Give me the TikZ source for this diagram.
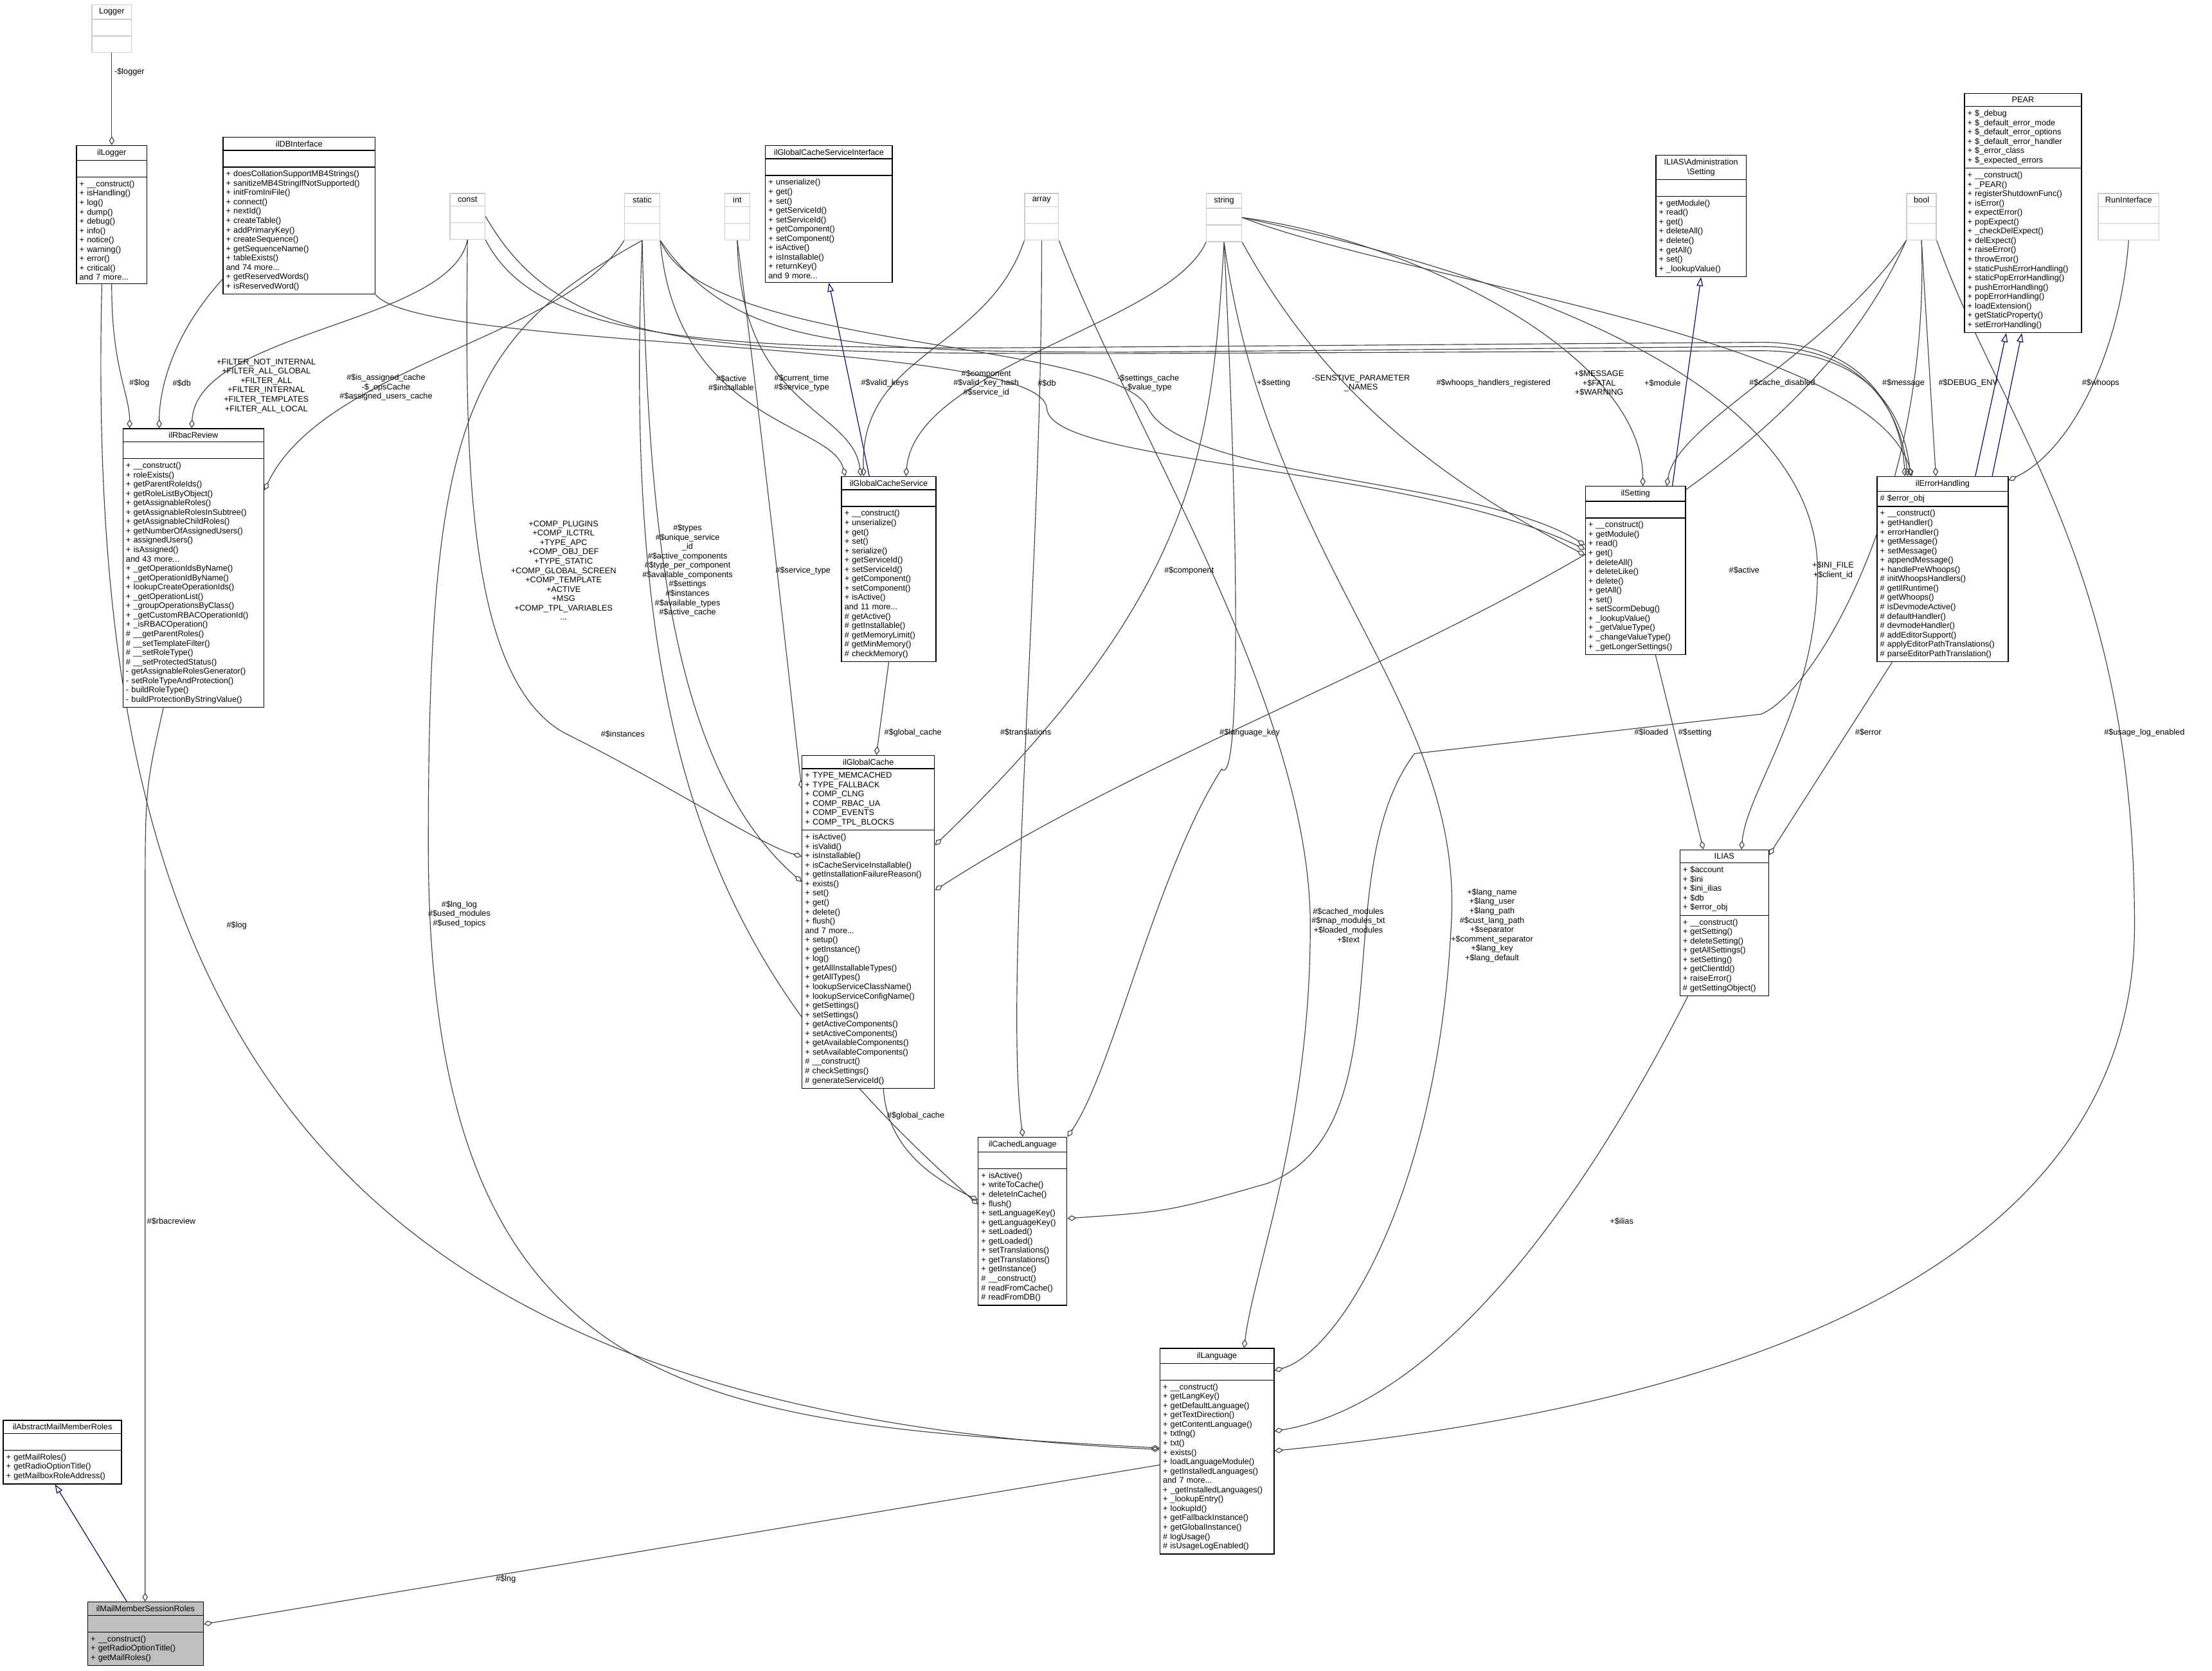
\documentclass[tikz,border=0pt]{standalone}
\usepackage{fontspec}
\setmainfont{Liberation Sans}
\usetikzlibrary{calc,shapes.multipart,arrows.meta,backgrounds}
% one class box: [style] name, left, top, width (px), title, attributes, methods
\newcommand\classbox[8][]{%
  \pgfmathsetlengthmacro\boxw{#5*0.02cm-2.4pt}%
  \node[umlclass,#1,text width=\boxw] (#2) at (#3,#4)
    {\centering #6\par\nodepart{two}#7\nodepart{three}#8};}
\begin{document}
\begin{tikzpicture}[x=0.02cm,y=-0.02cm,
  font=\fontsize{3.3}{3.78}\selectfont,
  umlclass/.style={draw,line width=0.35pt,fill=white,rectangle split,rectangle split parts=3,
    anchor=north west,inner xsep=1.2pt,inner ysep=1.3pt,align=left},
  typebox/.style={draw=gray!40},
  focus/.style={fill=gray!50},
  agg/.style={draw=black!75,line width=0.3pt,-{Diamond[open,length=3.6pt,width=2.2pt]}},
  inh/.style={draw=blue!40!black,line width=0.3pt,-{Triangle[open,length=3.6pt,width=2.6pt]}},
  lbl/.style={inner sep=0pt,align=center}]
\useasboundingbox (0,0) rectangle (1570,1186);

% top row
\classbox[typebox]{Logger}{65}{3}{28}{Logger}{\strut}{\strut}
\classbox{ilLogger}{54}{103}{50}{ilLogger}{\strut}{+ \_\_construct()\\+ isHandling()\\+ log()\\+ dump()\\+ debug()\\+ info()\\+ notice()\\+ warning()\\+ error()\\+ critical()\\and 7 more...}
\classbox{ilDBInterface}{158}{97}{108}{ilDBInterface}{\strut}{+ doesCollationSupportMB4Strings()\\+ sanitizeMB4StringIfNotSupported()\\+ initFromIniFile()\\+ connect()\\+ nextId()\\+ createTable()\\+ addPrimaryKey()\\+ createSequence()\\+ getSequenceName()\\+ tableExists()\\and 74 more...\\+ getReservedWords()\\+ isReservedWord()}
\classbox[typebox]{const}{319}{137}{25}{const}{\strut}{\strut}
\classbox[typebox]{static}{443}{137}{25}{static}{\strut}{\strut}
\classbox[typebox]{int}{514}{137}{18}{int}{\strut}{\strut}
\classbox{ilGCSInterface}{543}{103}{90}{ilGlobalCacheServiceInterface}{\strut}{+ unserialize()\\+ get()\\+ set()\\+ getServiceId()\\+ setServiceId()\\+ getComponent()\\+ setComponent()\\+ isActive()\\+ isInstallable()\\+ returnKey()\\and 9 more...}
\classbox[typebox]{array}{727}{137}{24}{array}{\strut}{\strut}
\classbox[typebox]{string}{856}{137}{25}{string}{\strut}{\strut}
\classbox{admSetting}{1175}{110}{64}{ILIAS\textbackslash Administration\\\textbackslash Setting}{\strut}{+ getModule()\\+ read()\\+ get()\\+ deleteAll()\\+ delete()\\+ getAll()\\+ set()\\+ \_lookupValue()}
\classbox[typebox]{bool}{1353}{137}{21}{bool}{\strut}{\strut}
\classbox{PEAR}{1394}{66}{83}{PEAR}{+ \$\_debug\\+ \$\_default\_error\_mode\\+ \$\_default\_error\_options\\+ \$\_default\_error\_handler\\+ \$\_error\_class\\+ \$\_expected\_errors}{+ \_\_construct()\\+ \_PEAR()\\+ registerShutdownFunc()\\+ isError()\\+ expectError()\\+ popExpect()\\+ \_checkDelExpect()\\+ delExpect()\\+ raiseError()\\+ throwError()\\+ staticPushErrorHandling()\\+ staticPopErrorHandling()\\+ pushErrorHandling()\\+ popErrorHandling()\\+ loadExtension()\\+ getStaticProperty()\\+ setErrorHandling()}
\classbox[typebox]{RunInterface}{1489}{137}{43}{RunInterface}{\strut}{\strut}

% middle row
\classbox{ilRbacReview}{87}{304}{100}{ilRbacReview}{\strut}{+ \_\_construct()\\+ roleExists()\\+ getParentRoleIds()\\+ getRoleListByObject()\\+ getAssignableRoles()\\+ getAssignableRolesInSubtree()\\+ getAssignableChildRoles()\\+ getNumberOfAssignedUsers()\\+ assignedUsers()\\+ isAssigned()\\and 43 more...\\+ \_getOperationIdsByName()\\+ \_getOperationIdByName()\\+ lookupCreateOperationIds()\\+ \_getOperationList()\\+ \_groupOperationsByClass()\\+ \_getCustomRBACOperationId()\\+ \_isRBACOperation()\\\# \_\_getParentRoles()\\\# \_\_setTemplateFilter()\\\# \_\_setRoleType()\\\# \_\_setProtectedStatus()\\- getAssignableRolesGenerator()\\- setRoleTypeAndProtection()\\- buildRoleType()\\- buildProtectionByStringValue()}
\classbox{ilGCService}{597}{338}{67}{ilGlobalCacheService}{\strut}{+ \_\_construct()\\+ unserialize()\\+ get()\\+ set()\\+ serialize()\\+ getServiceId()\\+ setServiceId()\\+ getComponent()\\+ setComponent()\\+ isActive()\\and 11 more...\\\# getActive()\\\# getInstallable()\\\# getMemoryLimit()\\\# getMinMemory()\\\# checkMemory()}
\classbox{ilSetting}{1125}{345}{71}{ilSetting}{\strut}{+ \_\_construct()\\+ getModule()\\+ read()\\+ get()\\+ deleteAll()\\+ deleteLike()\\+ delete()\\+ getAll()\\+ set()\\+ setScormDebug()\\+ \_lookupValue()\\+ \_getValueType()\\+ \_changeValueType()\\+ \_getLongerSettings()}
\classbox{ilErrorHandling}{1332}{338}{93}{ilErrorHandling}{\# \$error\_obj}{+ \_\_construct()\\+ getHandler()\\+ errorHandler()\\+ getMessage()\\+ setMessage()\\+ appendMessage()\\+ handlePreWhoops()\\\# initWhoopsHandlers()\\\# getIlRuntime()\\\# getWhoops()\\\# isDevmodeActive()\\\# defaultHandler()\\\# devmodeHandler()\\\# addEditorSupport()\\\# applyEditorPathTranslations()\\\# parseEditorPathTranslation()}
\classbox{ilGlobalCache}{569}{536}{94}{ilGlobalCache}{+ TYPE\_MEMCACHED\\+ TYPE\_FALLBACK\\+ COMP\_CLNG\\+ COMP\_RBAC\_UA\\+ COMP\_EVENTS\\+ COMP\_TPL\_BLOCKS}{+ isActive()\\+ isValid()\\+ isInstallable()\\+ isCacheServiceInstallable()\\+ getInstallationFailureReason()\\+ exists()\\+ set()\\+ get()\\+ delete()\\+ flush()\\and 7 more...\\+ setup()\\+ getInstance()\\+ log()\\+ getAllInstallableTypes()\\+ getAllTypes()\\+ lookupServiceClassName()\\+ lookupServiceConfigName()\\+ getSettings()\\+ setSettings()\\+ getActiveComponents()\\+ setActiveComponents()\\+ getAvailableComponents()\\+ setAvailableComponents()\\\# \_\_construct()\\\# checkSettings()\\\# generateServiceId()}
\classbox{ILIAS}{1192}{603}{63}{ILIAS}{+ \$account\\+ \$ini\\+ \$ini\_ilias\\+ \$db\\+ \$error\_obj}{+ \_\_construct()\\+ getSetting()\\+ deleteSetting()\\+ getAllSettings()\\+ setSetting()\\+ getClientId()\\+ raiseError()\\\# getSettingObject()}

% lower row
\classbox{ilCachedLanguage}{694}{807}{63}{ilCachedLanguage}{\strut}{+ isActive()\\+ writeToCache()\\+ deleteInCache()\\+ flush()\\+ setLanguageKey()\\+ getLanguageKey()\\+ setLoaded()\\+ getLoaded()\\+ setTranslations()\\+ getTranslations()\\+ getInstance()\\\# \_\_construct()\\\# readFromCache()\\\# readFromDB()}
\classbox{ilLanguage}{823}{957}{81}{ilLanguage}{\strut}{+ \_\_construct()\\+ getLangKey()\\+ getDefaultLanguage()\\+ getTextDirection()\\+ getContentLanguage()\\+ txtlng()\\+ txt()\\+ exists()\\+ loadLanguageModule()\\+ getInstalledLanguages()\\and 7 more...\\+ \_getInstalledLanguages()\\+ \_lookupEntry()\\+ lookupId()\\+ getFallbackInstance()\\+ getGlobalInstance()\\\# logUsage()\\\# isUsageLogEnabled()}
\classbox{ilAbstractMMR}{2}{1008}{84}{ilAbstractMailMemberRoles}{\strut}{+ getMailRoles()\\+ getRadioOptionTitle()\\+ getMailboxRoleAddress()}
\classbox[focus]{ilMailMSR}{62}{1137}{82}{ilMailMemberSessionRoles}{\strut}{+ \_\_construct()\\+ getRadioOptionTitle()\\+ getMailRoles()}

\begin{scope}[on background layer]
% left part
\draw[agg] (Logger.south) -- (ilLogger.north) node[lbl,right] at (81,51) {-\$logger};
\draw[agg] (ilLogger.south) .. controls (79,260) and (92,280) .. ($(ilRbacReview.north west)+(5,0)$);
\node[lbl] at (99,272) {\#\$log};
\draw[agg] ($(ilDBInterface.south west)+(0,-11)$) .. controls (120,240) and (113,280) .. ($(ilRbacReview.north west)+(26,0)$);
\node[lbl] at (129,272) {\#\$db};
\draw[agg] (const.south) .. controls (320,230) and (140,235) .. ($(ilRbacReview.north west)+(49,0)$);
\node[lbl] at (189,274) {+FILTER\_NOT\_INTERNAL\\+FILTER\_ALL\_GLOBAL\\+FILTER\_ALL\\+FILTER\_INTERNAL\\+FILTER\_TEMPLATES\\+FILTER\_ALL\_LOCAL};
\draw[agg] (static.south west) .. controls (400,240) and (230,260) .. ($(ilRbacReview.north east)+(0,44)$);
\node[lbl] at (274,275) {\#\$is\_assigned\_cache\\-\$\_opsCache\\\#\$assigned\_users\_cache};
\draw[agg] ($(ilLogger.south)+(-7,0)$) .. controls (60,700) and (200,1000) .. ($(ilLanguage.north west)+(0,72)$);
\node[lbl] at (168,657) {\#\$log};
\draw[agg] (static.south) .. controls (330,240) and (304,300) .. (304,600) .. controls (304,1000) and (500,1010) .. ($(ilLanguage.north west)+(0,71)$);
\node[lbl] at (326,649) {\#\$lng\_log\\\#\$used\_modules\\\#\$used\_topics};
\draw[agg] ($(ilRbacReview.south west)+(29,0)$) .. controls (103,560) .. (103,650) -- ($(ilMailMSR.north west)+(41,0)$);
\node[lbl,right] at (104,867) {\#\$rbacreview};
\draw[inh] ($(ilMailMSR.north west)+(28,0)$) -- ($(ilAbstractMMR.south west)+(37,0)$);
\draw[agg] ($(ilLanguage.north west)+(0,83)$) -- ($(ilMailMSR.north east)+(0,16)$);
\node[lbl] at (359,1121) {\#\$lng};

% global cache
\draw[agg] (int.south) .. controls (540,300) and (560,480) .. ($(ilGlobalCache.north west)+(0,24)$);
\node[lbl] at (570,405) {\#\$service\_type};
\draw[agg] (const.south) .. controls (330,320) and (330,480) .. (400,520) .. controls (480,560) and (540,600) .. ($(ilGlobalCache.north west)+(0,72)$);
\node[lbl] at (400,405) {+COMP\_PLUGINS\\+COMP\_ILCTRL\\+TYPE\_APC\\+COMP\_OBJ\_DEF\\+TYPE\_STATIC\\+COMP\_GLOBAL\_SCREEN\\+COMP\_TEMPLATE\\+ACTIVE\\+MSG\\+COMP\_TPL\_VARIABLES\\...};
\draw[agg] (static.south) .. controls (460,350) and (470,540) .. ($(ilGlobalCache.north west)+(0,90)$);
\node[lbl] at (488,405) {\#\$types\\\#\$unique\_service\\\_id\\\#\$active\_components\\\#\$type\_per\_component\\\#\$available\_components\\\#\$settings\\\#\$instances\\\#\$available\_types\\\#\$active\_cache};
\draw[agg] (static.south east) .. controls (480,300) and (590,300) .. ($(ilGCService.north west)+(3,0)$);
\node[lbl] at (519,272) {\#\$active\\\#\$installable};
\draw[agg] (int.south) .. controls (525,290) and (605,290) .. ($(ilGCService.north west)+(14,0)$);
\node[lbl] at (569,272) {\#\$current\_time\\\#\$service\_type};
\draw[inh] ($(ilGCService.north west)+(20,0)$) -- (ilGCSInterface.south);
\draw[agg] (array.south west) .. controls (700,250) and (610,250) .. ($(ilGCService.north west)+(16,0)$);
\node[lbl] at (628,272) {\#\$valid\_keys};
\draw[agg] (string.south west) .. controls (830,230) and (650,260) .. ($(ilGCService.north west)+(46,0)$);
\node[lbl] at (700,272) {\#\$component\\\#\$valid\_key\_hash\\\#\$service\_id};
\draw[agg] (ilGCService.south) -- ($(ilGlobalCache.north west)+(53,0)$);
\node[lbl] at (648,520) {\#\$global\_cache};
\draw[agg] (string.south) .. controls (860,320) and (850,420) .. ($(ilGlobalCache.north east)+(0,64)$);
\node[lbl] at (844,405) {\#\$component};
\draw[agg] (bool.south west) .. controls (1250,400) and (900,480) .. ($(ilGlobalCache.north east)+(0,96)$);
\node[lbl] at (1238,405) {\#\$active};

% cached language and language
\draw[agg] ($(ilGlobalCache.south west)+(58,0)$) .. controls (630,820) and (670,840) .. ($(ilCachedLanguage.north west)+(0,45)$);
\node[lbl] at (650,792) {\#\$global\_cache};
\draw[agg] (static.south) .. controls (440,560) and (520,700) .. ($(ilCachedLanguage.north west)+(0,48)$);
\node[lbl] at (442,521) {\#\$instances};
\draw[agg] (array.south) .. controls (740,400) and (712,700) .. ($(ilCachedLanguage.north west)+(32,0)$);
\node[lbl] at (728,520) {\#\$translations};
\draw[agg] (string.south) .. controls (880,400) and (880,560) .. (867,546) .. controls (820,620) and (790,760) .. (ilCachedLanguage.north east);
\node[lbl] at (887,520) {\#\$language\_key};
\draw[agg] (bool.south) .. controls (1370,350) and (1290,490) .. (1250,507) -- (1004,535) .. controls (940,620) and (1000,800) .. (900,840) .. controls (830,860) .. ($(ilCachedLanguage.north east)+(0,58)$);
\node[lbl] at (1172,520) {\#\$loaded};
\draw[agg] (array.south east) .. controls (800,300) and (930,500) .. (930,657) .. controls (930,800) and (890,900) .. ($(ilLanguage.north west)+(60,0)$);
\node[lbl] at (957,657) {\#\$cached\_modules\\\#\$map\_modules\_txt\\+\$loaded\_modules\\+\$text};
\draw[agg] (string.south) .. controls (900,400) and (1040,500) .. (1030,657) .. controls (1020,850) and (950,960) .. ($(ilLanguage.north east)+(0,16)$);
\node[lbl] at (1059,657) {+\$lang\_name\\+\$lang\_user\\+\$lang\_path\\\#\$cust\_lang\_path\\+\$separator\\+\$comment\_separator\\+\$lang\_key\\+\$lang\_default};
\draw[agg] ($(ILIAS.south west)+(6,0)$) .. controls (1100,900) and (1000,1000) .. ($(ilLanguage.north east)+(0,59)$);
\node[lbl] at (1151,867) {+\$ilias};
\draw[agg] (bool.south east) .. controls (1420,300) and (1515,400) .. (1515,657) .. controls (1515,950) and (1100,1010) .. ($(ilLanguage.north east)+(0,73)$);
\node[lbl] at (1522,520) {\#\$usage\_log\_enabled};

% ILIAS
\draw[agg] ($(ilSetting.south west)+(50,0)$) -- ($(ILIAS.north west)+(17,0)$);
\node[lbl] at (1203,520) {\#\$setting};
\draw[agg] (string.east) .. controls (1000,180) and (1290,250) .. (1290,405) .. controls (1290,500) and (1240,560) .. ($(ILIAS.north west)+(44,0)$);
\node[lbl] at (1301,405) {+\$INI\_FILE\\+\$client\_id};
\draw[agg] ($(ilErrorHandling.south west)+(11,0)$) -- ($(ILIAS.north east)+(0,4)$);
\node[lbl] at (1326,520) {\#\$error};

% setting
\draw[agg] (static.south east) .. controls (500,250) and (790,240) .. (815,290) .. controls (840,340) and (1050,340) .. ($(ilSetting.north west)+(0,42)$);
\node[lbl] at (815,272) {-\$settings\_cache\\-\$value\_type};
\draw[agg] (ilDBInterface.south east) .. controls (300,250) and (740,240) .. (743,290) .. controls (746,330) and (1000,330) .. ($(ilSetting.north west)+(0,45)$);
\node[lbl] at (743,272) {\#\$db};
\draw[agg] (string.south east) .. controls (930,260) and (1000,330) .. ($(ilSetting.north west)+(0,49)$);
\node[lbl] at (904,272) {+\$setting};
\draw[inh] ($(ilSetting.north west)+(62,0)$) -- (admSetting.south);
\draw[agg] (string.east) .. controls (1000,170) and (1166,250) .. ($(ilSetting.north west)+(41,0)$);
\node[lbl] at (1180,272) {+\$module};
\draw[agg] (bool.south west) .. controls (1300,250) and (1190,300) .. ($(ilSetting.north west)+(58,0)$);
\node[lbl] at (1265,272) {\#\$cache\_disabled};

% error handling
\draw[agg] (const.south east) .. controls (380,240) and (500,247) .. (700,247) -- (1250,243) .. controls (1330,243) and (1350,300) .. ($(ilErrorHandling.north west)+(20,0)$);
\node[lbl] at (966,272) {-SENSTIVE\_PARAMETER\\\_NAMES};
\draw[agg] (static.south east) .. controls (520,245) and (600,250) .. (800,250) -- (1250,246) .. controls (1330,246) and (1350,300) .. ($(ilErrorHandling.north west)+(22,0)$);
\node[lbl] at (1060,272) {\#\$whoops\_handlers\_registered};
\draw[agg] (const.east) .. controls (400,250) and (500,251) .. (800,251) -- (1250,249) .. controls (1332,249) and (1352,300) .. ($(ilErrorHandling.north west)+(24,0)$);
\node[lbl] at (1135,272) {+\$MESSAGE\\+\$FATAL\\+\$WARNING};
\draw[agg] (string.east) .. controls (1000,200) and (1330,240) .. ($(ilErrorHandling.north west)+(25,0)$);
\node[lbl] at (1351,272) {\#\$message};
\draw[agg] (bool.south) -- ($(ilErrorHandling.north west)+(42,0)$);
\node[lbl] at (1397,272) {\#\$DEBUG\_ENV};
\draw[inh] ($(ilErrorHandling.north west)+(70,0)$) -- ($(PEAR.south west)+(30,0)$);
\draw[inh] ($(ilErrorHandling.north west)+(82,0)$) -- ($(PEAR.south west)+(41,0)$);
\draw[agg] (RunInterface.south) .. controls (1505,250) and (1470,320) .. ($(ilErrorHandling.north east)+(0,3)$);
\node[lbl] at (1491,272) {\#\$whoops};
\end{scope}
\end{tikzpicture}
\end{document}
